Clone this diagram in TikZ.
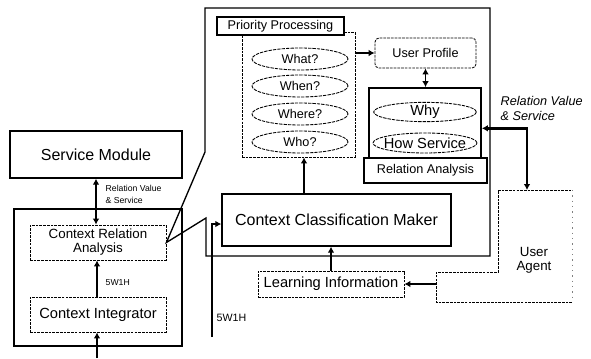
\documentclass[tikz,border=0pt]{standalone}
\usepackage{fontspec}
\setmainfont{Liberation Sans}
\usetikzlibrary{fit,arrows.meta,shapes.geometric}
\begin{document}
\begin{tikzpicture}[x=0.75pt,y=-0.75pt,
  box/.style={draw, inner sep=0pt, line width=1pt},
  dbox/.style={draw, inner sep=0pt, line width=0.6pt, dash pattern=on 2pt off 0.8pt},
  ell/.style={draw, ellipse, inner sep=0pt, line width=0.65pt, dash pattern=on 2.5pt off 0.8pt},
  arr/.style={line width=1.8pt, -{Latex[length=4.5pt,width=5pt]}},
  darr/.style={line width=1.8pt, {Latex[length=4.5pt,width=5pt]}-{Latex[length=4.5pt,width=5pt]}},
  fA/.style={font=\fontsize{12}{14}\selectfont},
  fB/.style={font=\fontsize{11}{13}\selectfont},
  fC/.style={font=\fontsize{10}{10.5}\selectfont, align=center},
  fD/.style={font=\fontsize{9.5}{11}\selectfont},
]
\useasboundingbox (0,0) rectangle (591,358);
% left part
\node[box, fit={(10,131) (182,178)}, label={[fA]center:Service Module}] (sm) {};
\node[box, fit={(14,209) (182,346)}] (lbox) {};
\node[dbox, fit={(30,225) (166,260)}, label={[fC]center:Context Relation\\Analysis}] (cra) {};
\node[dbox, fit={(30,297) (166,332)}, label={[fB]center:Context Integrator}] (ci) {};
\coordinate (x96) at (96,0);
\coordinate (inp) at (97,358);
\draw[darr, line width=1.3pt] (sm.south -| x96) -- (cra.north -| x96);
\draw[arr] (ci.north -| inp) -- (cra.south -| inp);
\draw[arr] (inp) -- (ci.south -| inp);
\node[anchor=west, align=left, font=\fontsize{6.5}{9}\selectfont] (rvs1) at (101,194) {Relation Value\\\& Service};
\node[anchor=west, font=\fontsize{6.5}{8}\selectfont] (w5a) at (101,283) {5W1H};
% big box with callout
\draw[line width=1pt] (205,8) -- (490,8) -- (490,256) -- (206,256) -- (206,218) -- (cra.east) -- (205,152) -- cycle;
% priority processing
\node[dbox, fit={(242,32) (355,157)}] (pc) {};
\node[box, fill=white, fit={(217,17) (344,35)}, label={[fD]center:Priority Processing}] (pl) {};
\node[ell, minimum width=72pt, minimum height=16.5pt, fD] (what) at (300,59) {What?};
\node[ell, minimum width=72pt, minimum height=16.5pt, fD] (when) at (300,86) {When?};
\node[ell, minimum width=72pt, minimum height=16.5pt, fD] (where) at (300,114) {Where?};
\node[ell, minimum width=72pt, minimum height=16.5pt, fD] (who) at (300,142) {Who?};
% user profile / relation analysis
\node[dbox, rounded corners=3pt, fit={(375,38) (476,68)}, label={[fD]center:User Profile}] (up) {};
\node[draw, line width=1.3pt, inner sep=0pt, fit={(369,88) (481,158)}] (rb) {};
\node[box, line width=1pt, fit={(364,158) (487,183)}, label={[fD]center:Relation Analysis}] (rl) {};
\node[ell, minimum width=77pt, minimum height=13.5pt, fB] (why) at (425,112) {Why};
\node[ell, minimum width=78pt, minimum height=15pt, label={[fB]center:How Service}] (how) at (425,143) {};
\node[anchor=west, align=left, font=\itshape\fontsize{9.5}{11.25}\selectfont] (rvs2) at (496,108) {Relation Value\\\& Service};
% classification / learning / agent
\node[box, fit={(222,194) (451,246)}, label={[fA]center:Context Classification Maker}] (ccm) {};
\node[dbox, fit={(258,271) (404,297)}, label={[fB]center:Learning Information}] (li) {};
\node[inner sep=0pt, fit={(436,190) (572,302)}] (ua) {};
\draw[dbox] (572,302) -- (436,302) -- (436,272) -- (498,272) -- (498,190) -- (572,190);
\draw[gray, line width=0.5pt, dash pattern=on 1pt off 3pt] (572,190) -- (572,302);
\node[fC] (uat) at (534,260) {User\\Agent};
\coordinate (x304) at (304,0);
\coordinate (w5) at (212,337);
\coordinate (uatop) at (527,190);
\draw[arr] (ccm.north -| x304) -- (pc.south -| x304);
\draw[arr] (li.north) -- (ccm.south -| li.north);
\draw[arr] (li.east -| ua.west) -- (li.east);
\draw[arr] (up.west -| pc.east) -- (up.west);
\draw[darr, line width=1.4pt] (up.south) -- (rb.north -| up.south);
\draw[darr] ([yshift=-4pt]rb.east) -| (uatop);
\draw[arr] (w5) |- ([yshift=-3pt]ccm.west);
\node[anchor=west, font=\fontsize{8}{9}\selectfont] (w5b) at (212,318) {5W1H};
\end{tikzpicture}
\end{document}
